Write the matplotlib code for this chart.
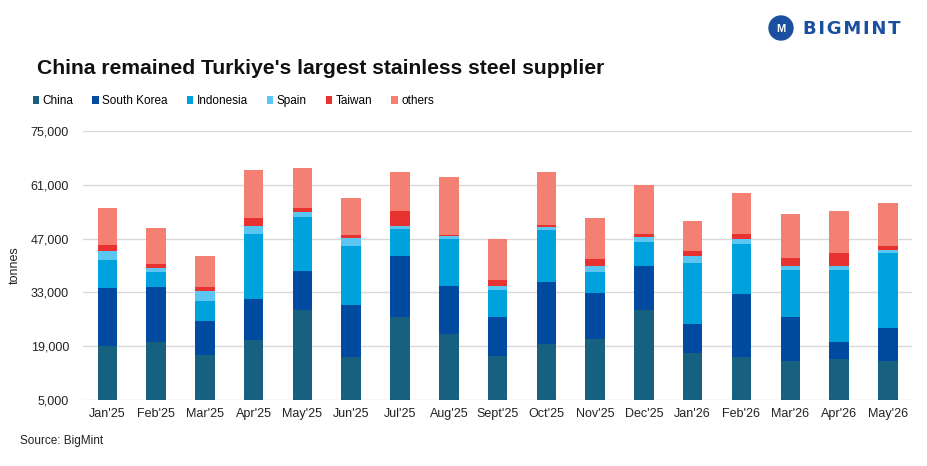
import numpy as np
import matplotlib.pyplot as plt
from matplotlib.patches import Ellipse

plt.rcParams['font.family'] = ['Liberation Sans', 'DejaVu Sans']

# 月份
months = ["Jan'25", "Feb'25", "Mar'25", "Apr'25", "May'25", "Jun'25", "Jul'25",
          "Aug'25", "Sept'25", "Oct'25", "Nov'25", "Dec'25", "Jan'26", "Feb'26",
          "Mar'26", "Apr'26", "May'26"]

# 各国进口量（吨）
china = [19000, 20000, 16700, 20680, 28390, 16180, 26660, 22240, 16440, 19550,
         20770, 28390, 17130, 16180, 15220, 15740, 15220]
south_korea = [15250, 14280, 8920, 10570, 10140, 13600, 15770, 12470, 10130, 16110,
               11950, 11520, 7620, 16460, 11350, 4330, 8490]
indonesia = [7280, 4070, 5200, 16980, 14120, 15420, 7020, 12220, 7020, 13510,
             5630, 6330, 15940, 13080, 12130, 18890, 19670]
spain = [2160, 1040, 2420, 2080, 1210, 1990, 870, 780, 1040, 870,
         1560, 1210, 1730, 1300, 1210, 950, 610]
taiwan = [1560, 950, 1040, 1990, 1210, 690, 3810, 350, 1560, 610,
          1730, 870, 1300, 1130, 2080, 3290, 1210]
others = [9700, 9530, 8230, 12480, 10400, 9620, 10140, 14900, 10740, 13690,
          10660, 12560, 7800, 10830, 11440, 11000, 11000]

series = [('China', china, '#17607f'),
          ('South Korea', south_korea, '#004a9f'),
          ('Indonesia', indonesia, '#00a2dd'),
          ('Spain', spain, '#5bc6f2'),
          ('Taiwan', taiwan, '#e8322f'),
          ('others', others, '#f47f73')]

yticks = [5000, 19000, 33000, 47000, 61000, 75000]

fig = plt.figure(figsize=(9.28, 4.66), dpi=100)
ax = fig.add_axes([0.0894, 0.1416, 0.8936, 0.5773])

x = np.arange(len(months))
bottom = np.zeros(len(months))
for name, vals, col in series:
    ax.bar(x, vals, width=0.4, bottom=bottom, color=col, label=name, zorder=3)
    bottom += np.array(vals)

# 坐标轴设置
ax.set_xlim(-0.5, len(months) - 0.5)
ax.set_ylim(5000, 75000)
ax.set_yticks(yticks)
ax.set_yticklabels([f'{v:,}' for v in yticks])
ax.set_xticks(x)
ax.set_xticklabels(months)
ax.tick_params(axis='both', length=0, labelsize=9, colors='#222222')
ax.tick_params(axis='y', pad=10)
ax.tick_params(axis='x', pad=6)
ax.grid(axis='y', color='#d9d9d9', linewidth=1, zorder=0)
for s in ax.spines.values():
    s.set_visible(False)
fig.text(0.016, 0.43, 'tonnes', rotation=90, fontsize=9, color='#222222',
         ha='center', va='center')

# 标题
fig.text(0.040, 0.853, "China remained Turkiye's largest stainless steel supplier",
         fontsize=15.2, fontweight='bold', va='center', ha='left', color='#111111')

# 图例
fig.legend(loc='center left', bbox_to_anchor=(0.030, 0.783), ncol=6, frameon=False,
           fontsize=8.5, handlelength=0.55, handleheight=0.55, handletextpad=0.3,
           columnspacing=1.6, borderaxespad=0)

# 来源
fig.text(0.022, 0.054, 'Source: BigMint', fontsize=8.5, va='center', ha='left',
         color='#222222')

# 标志
fig.text(803 / 928, 0.938, '\u200a'.join('BIGMINT'), fontsize=13, fontweight='bold',
         va='center', ha='left', color='#1b4fa0', family='DejaVu Sans')
logo = Ellipse((781 / 928, 1 - 28 / 466), 24 / 928, 24 / 466,
               transform=fig.transFigure, color='#1b4fa0')
fig.patches.append(logo)
fig.text(781 / 928, 1 - 29 / 466, 'M', fontsize=8, fontweight='bold', color='white',
         ha='center', va='center')

fig.savefig('out.png', dpi=100)
